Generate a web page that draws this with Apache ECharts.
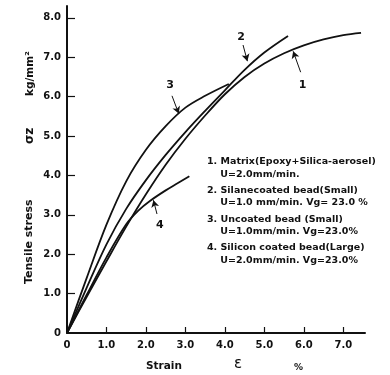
<!DOCTYPE html>
<html><head><meta charset="utf-8">
<script src="https://cdn.jsdelivr.net/npm/echarts@6/dist/echarts.min.js"></script>
<style>html,body{margin:0;padding:0;background:#fff}#c{width:390px;height:375px}</style>
</head><body><div id="c"></div>
<script>
const strainTicks = [0, 1, 2, 3, 4, 5, 6, 7];
const stressTicks = [0, 1, 2, 3, 4, 5, 6, 7, 8];

const c1x = [0, 0.5, 1.0, 1.5, 2.0, 2.5, 3.0, 3.5, 4.0, 4.5, 5.0, 5.5, 6.0, 6.5, 7.0, 7.45];
const c1y = [0, 0.92, 1.82, 2.7, 3.52, 4.27, 4.93, 5.52, 6.06, 6.5, 6.84, 7.1, 7.3, 7.45, 7.56, 7.62];
const c2x = [0, 0.5, 1.0, 1.5, 2.0, 2.5, 3.0, 3.5, 4.0, 4.5, 5.0, 5.6];
const c2y = [0, 1.15, 2.25, 3.15, 3.88, 4.52, 5.1, 5.64, 6.16, 6.68, 7.12, 7.54];
const c3x = [0, 0.5, 1.0, 1.5, 2.0, 2.5, 3.0, 3.5, 4.1];
const c3y = [0, 1.4, 2.75, 3.85, 4.65, 5.25, 5.72, 6.02, 6.32];
const c4x = [0, 0.5, 1.0, 1.5, 1.8, 2.1, 2.5, 2.8, 3.1];
const c4y = [0, 0.97, 1.92, 2.76, 3.1, 3.35, 3.62, 3.8, 3.98];

const curveNames = ['1', '2', '3', '4'];
// label position, arrow tail, arrow tip (data coords)
const labelPos = [[5.97, 6.29], [4.41, 7.51], [2.61, 6.29], [2.35, 2.74]];
const arrowTail = [[5.92, 6.62], [4.46, 7.31], [2.66, 6.02], [2.28, 3.02]];
const arrowTip = [[5.73, 7.15], [4.57, 6.9], [2.83, 5.57], [2.19, 3.37]];

const legendLines = [
  '1. Matrix(Epoxy+Silica-aerosel)',
  '    U=2.0mm/min.',
  '2. Silanecoated bead(Small)',
  '    U=1.0 mm/min. Vg= 23.0 %',
  '3. Uncoated bead (Small)',
  '    U=1.0mm/min. Vg=23.0%',
  '4. Silicon coated bead(Large)',
  '    U=2.0mm/min. Vg=23.0%'
];

const FONT = '"DejaVu Sans", sans-serif';
const pairs = (xs, ys) => xs.map((x, i) => [x, ys[i]]);
const allX = [c1x, c2x, c3x, c4x], allY = [c1y, c2y, c3y, c4y];

const series = allX.map((xs, i) => ({
  name: curveNames[i],
  type: 'line',
  data: pairs(xs, allY[i]),
  smooth: 0.35,
  showSymbol: false,
  lineStyle: { color: '#111', width: 1.8 },
  markLine: {
    silent: true,
    symbol: ['none', 'arrow'],
    symbolSize: [6, 7],
    lineStyle: { color: '#111', width: 1, type: 'solid' },
    label: { show: false },
    data: [[{ coord: arrowTail[i] }, { coord: arrowTip[i] }]]
  },
  markPoint: {
    silent: true,
    symbol: 'circle',
    symbolSize: 0,
    label: { show: true, position: 'inside', formatter: curveNames[i], color: '#111', fontSize: 11, fontWeight: 'bold', fontFamily: FONT },
    data: [{ coord: labelPos[i] }]
  }
}));

const chart = echarts.init(document.getElementById('c'));
const legendGraphics = legendLines.map((t, i) => ({
  type: 'text',
  left: 207,
  top: 157 + i * 12.3 + Math.floor(i / 2) * 4,
  style: { text: t, fill: '#111', font: 'bold 9.5px ' + FONT }
}));

chart.setOption({
  animation: false,
  grid: { left: 67, right: 25, top: 6, bottom: 42 },
  xAxis: {
    type: 'value', min: 0, max: 7.55,
    axisLine: { show: true, lineStyle: { color: '#111', width: 2 } },
    axisTick: { show: true, inside: true, length: 6, customValues: strainTicks.slice(1), lineStyle: { color: '#111', width: 1.2 } },
    axisLabel: { customValues: strainTicks, formatter: v => v === 0 ? '0' : v.toFixed(1), color: '#111', fontSize: 10, fontWeight: 'bold', fontFamily: FONT, margin: 7 },
    splitLine: { show: false }
  },
  yAxis: {
    type: 'value', min: 0, max: 8.3,
    axisLine: { show: true, lineStyle: { color: '#111', width: 2 } },
    axisTick: { show: true, inside: true, length: 8, customValues: stressTicks.slice(1), lineStyle: { color: '#111', width: 1.2 } },
    axisLabel: { customValues: stressTicks, formatter: v => v === 0 ? '0' : v.toFixed(1), color: '#111', fontSize: 10, fontWeight: 'bold', fontFamily: FONT, margin: 6 },
    splitLine: { show: false }
  },
  series: series,
  graphic: legendGraphics.concat([
    { type: 'text', left: 146, top: 361, style: { text: 'Strain', fill: '#111', font: 'bold 10.5px ' + FONT } },
    { type: 'text', left: 234, top: 357, style: { text: 'ε', fill: '#111', font: '15px ' + FONT } },
    { type: 'text', left: 294, top: 363, style: { text: '%', fill: '#111', font: 'bold 9px ' + FONT } },
    { type: 'text', x: 24, y: 284, rotation: Math.PI / 2, style: { text: 'Tensile stress', fill: '#111', font: 'bold 11px ' + FONT } },
    { type: 'text', x: 24, y: 144, rotation: Math.PI / 2, style: { text: 'σz', fill: '#111', font: 'bold 12px ' + FONT } },
    { type: 'text', x: 25, y: 96, rotation: Math.PI / 2, style: { text: 'kg/mm²', fill: '#111', font: 'bold 10.5px ' + FONT } }
  ])
});
</script>
</body></html>
